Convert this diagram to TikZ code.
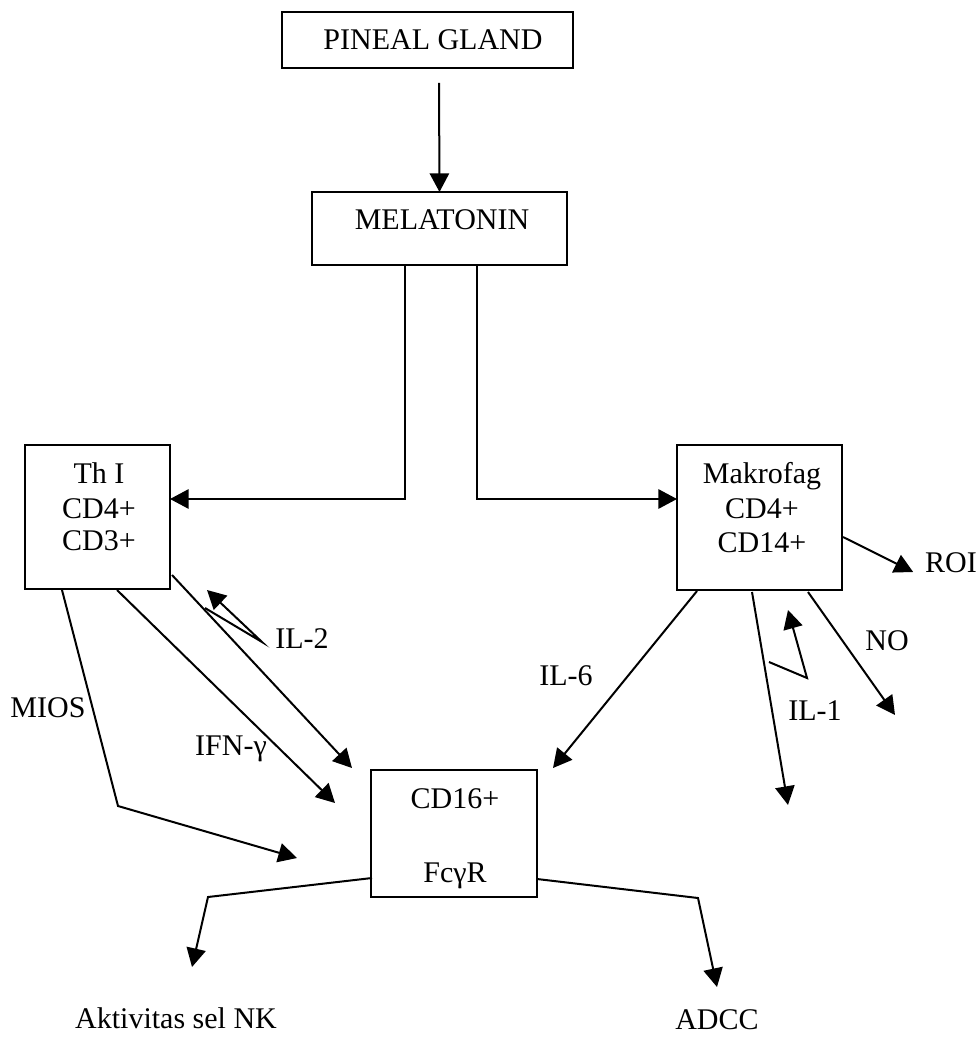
\documentclass[tikz,border=0pt]{standalone}
\usepackage{fontspec}
\setmainfont{Liberation Serif}
\usetikzlibrary{arrows.meta,fit}
\begin{document}
\begin{tikzpicture}[x=0.75pt,y=-0.75pt,
  every node/.style={font=\fontsize{22.5}{26}\selectfont, inner sep=0pt, outer sep=0pt},
  box/.style={draw, line width=1.5pt, inner sep=0pt},
  lbl/.style={anchor=base},
  link/.style={line width=1.5pt, line join=miter},
  arr/.style={link, -{Triangle[length=14pt,width=14.5pt]}}]

\useasboundingbox (0,0) rectangle (979,1037);

% boxes
\node[box, fit={(282,12) (573,68)}] (pineal) {};
\node[box, fit={(312,192) (567,265)}] (mel) {};
\node[box, fit={(25,445) (170,589)}] (th) {};
\node[box, fit={(677,445) (842,590)}] (mak) {};
\node[box, fit={(371,770) (537,897)}] (cd) {};

% box texts
\node[lbl] (pinealtxt) at (433,50) {PINEAL GLAND};
\node[lbl] (meltxt) at (442,230) {MELATONIN};
\node[lbl] (tha) at (99,483) {Th I};
\node[lbl] (thb) at (99,518) {CD4+};
\node[lbl] (thc) at (99,550) {CD3+};
\node[lbl] (maka) at (762,483) {Makrofag};
\node[lbl] (makb) at (762,518) {CD4+};
\node[lbl] (makc) at (762,552) {CD14+};
\node[lbl] (cda) at (455,808) {CD16+};
\node[lbl] (cdb) at (455,882) {FcγR};

% free labels
\node[lbl] (il2) at (302,648) {IL-2};
\node[lbl] (mios) at (48,717) {MIOS};
\node[lbl] (ifn) at (231,755) {IFN-γ};
\node[lbl] (il6) at (566,685) {IL-6};
\node[lbl] (il1) at (815,720) {IL-1};
\node[lbl] (no) at (887,650) {NO};
\node[lbl] (roi) at (951,572) {ROI};
\node[lbl] (nk) at (176,1028) {Aktivitas sel NK};
\node[lbl] (adcc) at (717,1029) {ADCC};

% bends and free ends
\coordinate (miosbend) at (118,806);
\coordinate (il1end) at (788,805);
\coordinate (noend) at (895,715);
\coordinate (nkbend) at (208,897);
\coordinate (adccbend) at (698,898);
\coordinate (zA1) at (205,608);
\coordinate (zA2) at (262,642);
\coordinate (zA3) at (207,590);
\coordinate (zB1) at (769,662);
\coordinate (zB2) at (807,678);
\coordinate (zB3) at (788,610);

% pineal gland to melatonin
\draw[arr] ([shift={(11.5,15)}]pineal.south) -- (mel.north);

% melatonin to the two cell types
\draw[arr] ([shift={(-35,0)}]mel.south) |- ([shift={(0,-18)}]th.east);
\draw[arr] ([shift={(37.5,0)}]mel.south) |- ([shift={(0,-18.5)}]mak.west);

% Th I outputs
\draw[arr] ([shift={(2,-14)}]th.south east) -- ([shift={(-19,-2)}]cd.north west);
\draw[arr] ([shift={(19.5,1)}]th.south) -- ([shift={(-36,33)}]cd.north west);
\draw[arr] ([shift={(-35.5,1)}]th.south) -- (miosbend) -- ([shift={(-74,24.5)}]cd.west);
\draw[arr] (zA1) -- (zA2) -- (zA3);

% Makrofag outputs
\draw[arr] ([shift={(20,1)}]mak.south west) -- ([shift={(16,-2)}]cd.north east);
\draw[arr] ([shift={(-7.5,2)}]mak.south) -- (il1end);
\draw[arr] ([shift={(-34,2)}]mak.south east) -- (noend);
\draw[arr] ([shift={(1,19.5)}]mak.east) -- ([shift={(-12,0)}]roi.base west);
\draw[arr] (zB1) -- (zB2) -- (zB3);

% CD16+ outputs
\draw[arr] ([shift={(1,44.5)}]cd.west) -- (nkbend) -- ([shift={(16,-61)}]nk.base);
\draw[arr] ([shift={(0,45.5)}]cd.east) -- (adccbend) -- ([shift={(0,-42)}]adcc.base);

\end{tikzpicture}
\end{document}
